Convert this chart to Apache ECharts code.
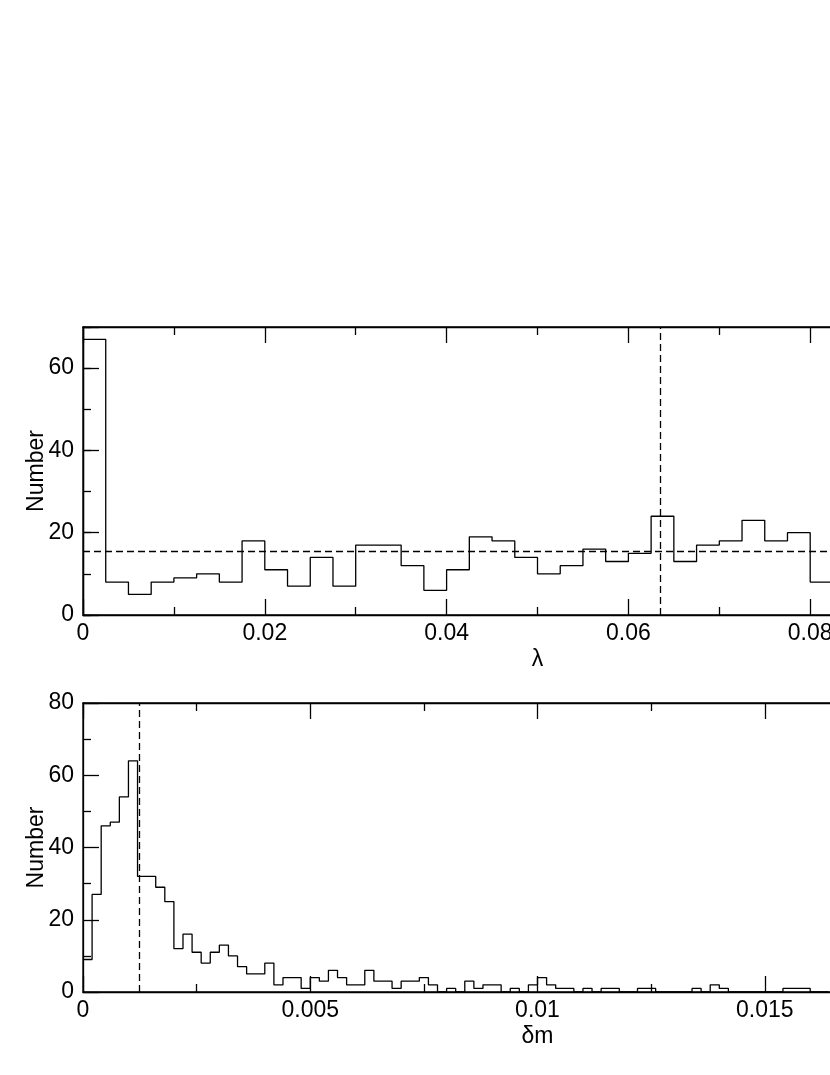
<!DOCTYPE html>
<html>
<head>
<meta charset="utf-8">
<script src="https://cdn.jsdelivr.net/npm/echarts@6/dist/echarts.min.js"></script>
<style>
html,body{margin:0;padding:0;background:#fff;overflow:hidden;width:830px;height:1075px;}
#chart{width:1000px;height:1075px;}
</style>
</head>
<body>
<div id="chart"></div>
<script>
// Top panel: histogram of lambda (bin width 0.0025)
const lambdaBinWidth = 0.0025;
const lambdaCounts = [67, 8, 5, 8, 9, 10, 8, 18, 11, 7, 14, 7, 17, 17, 12, 6, 11,
  19, 18, 14, 10, 12, 16, 13, 15, 24, 13, 17, 18, 23, 18, 20, 8];
const lambdaMeanLine = 15.4;
const lambdaMarkLine = 0.0635;
const lambdaTicks = [0, 0.02, 0.04, 0.06, 0.08, 0.1];

// Bottom panel: histogram of delta m (bin width 0.0002)
const dmBinWidth = 0.0002;
const dmCounts = [9, 27, 46, 47, 54, 64, 32, 32, 29, 25, 12, 16, 11, 8, 11, 13, 10, 7, 5, 5,
  8, 2, 4, 4, 1, 4, 3, 6, 4, 2, 2, 6, 3, 3, 1, 3, 3, 4, 2, 0,
  1, 0, 3, 1, 2, 2, 0, 1, 0, 2, 4, 2, 1, 1, 0, 1, 0, 1, 1, 0,
  0, 1, 1, 0, 0, 0, 0, 1, 0, 2, 1, 0, 0, 0, 0, 0, 0, 1, 1, 1, 0, 0];
const dmMarkLine = 0.00123;
const dmTicks = [0, 0.005, 0.01, 0.015, 0.02];

function stepData(counts, w) {
  const d = counts.map((v, i) => [i * w, v]);
  d.push([counts.length * w, 0]);
  return d;
}

const FONT = "'Liberation Sans', Arial, Helvetica, sans-serif";
const FS = 23;
const ink = '#000';

function xAx(grid, min, max, interval, pos, name) {
  return {
    type: 'value', gridIndex: grid, position: pos, min: min, max: max, interval: interval,
    name: name || '', nameLocation: 'middle', nameGap: 33, nameMoveOverlap: false,
    nameTextStyle: {fontFamily: FONT, fontSize: FS, color: ink},
    axisLine: {show: true, onZero: false, lineStyle: {color: ink, width: 1.3}},
    axisTick: {show: true, inside: true, length: 16, lineStyle: {color: ink, width: 1.3}},
    minorTick: {show: true, splitNumber: 2, length: 8, lineStyle: {color: ink, width: 1.3}},
    axisLabel: {show: pos === 'bottom', margin: 7, fontFamily: FONT, fontSize: FS, color: ink,
      showMaxLabel: false,
      formatter: v => String(+v.toFixed(4))},
    splitLine: {show: false}
  };
}

function yAx(grid, min, max, interval, labels, tickLen, minor, name) {
  return {
    type: 'value', gridIndex: grid, position: 'left', min: min, max: max, interval: interval,
    name: name || '', nameLocation: 'middle', nameGap: 35, nameMoveOverlap: false,
    nameTextStyle: {fontFamily: FONT, fontSize: FS, color: ink},
    axisLine: {show: true, onZero: false, lineStyle: {color: ink, width: 1.3}},
    axisTick: {show: true, inside: true, length: tickLen, lineStyle: {color: ink, width: 1.3}},
    minorTick: {show: minor, splitNumber: 2, length: 8, lineStyle: {color: ink, width: 1.3}},
    axisLabel: {show: labels, margin: 9, fontFamily: FONT, fontSize: FS, color: ink,
      formatter: v => (v % 20 === 0 ? String(v) : '')},
    splitLine: {show: false}
  };
}

const chart = echarts.init(document.getElementById('chart'), null, {renderer: 'canvas'});
const dash = {type: [7, 4], color: ink, width: 1.3};

chart.setOption({
  animation: false,
  backgroundColor: '#fff',
  grid: [
    {left: 83, top: 327, width: 909, height: 288, show: true, borderColor: ink, borderWidth: 1.3},
    {left: 83, top: 703, width: 909, height: 289, show: true, borderColor: ink, borderWidth: 1.3}
  ],
  xAxis: [
    xAx(0, lambdaTicks[0], lambdaTicks[lambdaTicks.length - 1], 0.02, 'bottom', 'λ'),
    xAx(0, lambdaTicks[0], lambdaTicks[lambdaTicks.length - 1], 0.02, 'top'),
    xAx(1, dmTicks[0], dmTicks[dmTicks.length - 1], 0.005, 'bottom', 'δm'),
    xAx(1, dmTicks[0], dmTicks[dmTicks.length - 1], 0.005, 'top')
  ],
  yAxis: [
    yAx(0, 0, 70, 20, true, 16, false, 'Number'),
    yAx(0, 0, 70, 10, false, 8, false),
    yAx(1, 0, 80, 20, true, 16, true, 'Number')
  ],
  series: [
    {
      type: 'line', xAxisIndex: 0, yAxisIndex: 0, step: 'end', showSymbol: false, symbol: 'none',
      data: stepData(lambdaCounts, lambdaBinWidth),
      lineStyle: {color: ink, width: 1.3}, silent: true,
      markLine: {
        silent: true, symbol: ['none', 'none'], label: {show: false}, animation: false,
        precision: 6, lineStyle: dash,
        data: [{yAxis: lambdaMeanLine}, {xAxis: lambdaMarkLine}]
      }
    },
    {
      type: 'line', xAxisIndex: 2, yAxisIndex: 2, step: 'end', showSymbol: false, symbol: 'none',
      data: stepData(dmCounts, dmBinWidth),
      lineStyle: {color: ink, width: 1.3}, silent: true,
      markLine: {
        silent: true, symbol: ['none', 'none'], label: {show: false}, animation: false,
        precision: 6, lineStyle: dash,
        data: [{xAxis: dmMarkLine}]
      }
    }
  ]
});
</script>
</body>
</html>
